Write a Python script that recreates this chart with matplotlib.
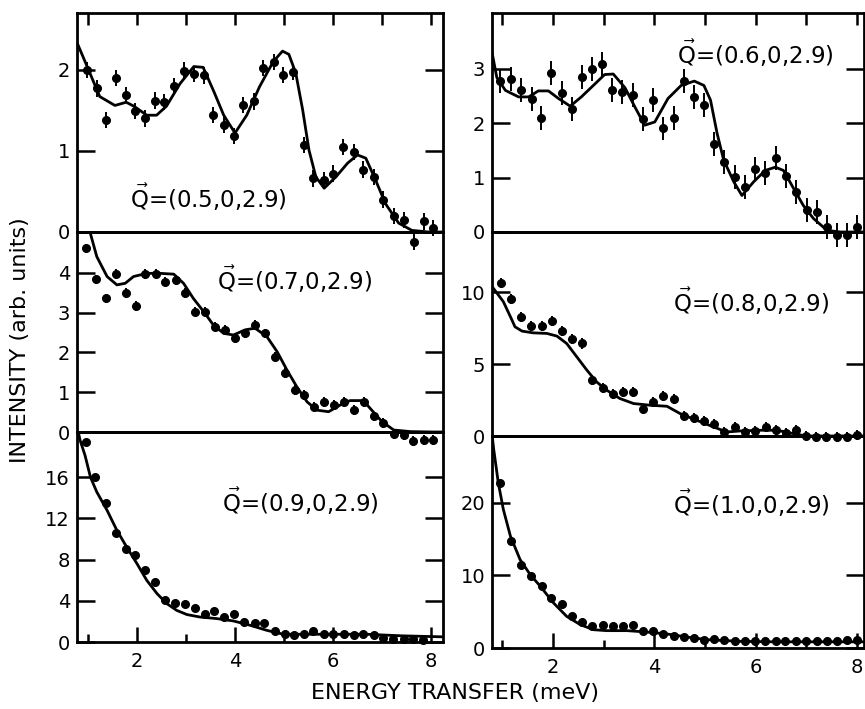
import matplotlib.pyplot as plt

W, H = 865, 709

# ===================== Q=(0.5,0,2.9) =====================
q05_e = [0.99, 1.18, 1.37, 1.58, 1.77, 1.96, 2.17, 2.36, 2.56, 2.76, 2.96, 3.17, 3.37, 3.56, 3.77, 3.98, 4.17, 4.38,
         4.58, 4.79, 4.99, 5.19, 5.40, 5.60, 5.81, 6.00, 6.21, 6.42, 6.62, 6.83, 7.03, 7.25, 7.44, 7.65, 7.85, 8.04]
q05_i = [2.00, 1.77, 1.38, 1.90, 1.69, 1.49, 1.40, 1.62, 1.60, 1.80, 1.99, 1.95, 1.93, 1.44, 1.32, 1.18, 1.57, 1.61,
         2.02, 2.10, 1.94, 1.97, 1.07, 0.66, 0.64, 0.72, 1.05, 0.99, 0.77, 0.68, 0.40, 0.20, 0.15, -0.12, 0.13, 0.05]
q05_fit_e = [0.78, 0.99, 1.24, 1.55, 1.78, 1.94, 2.2, 2.4, 2.6, 2.88, 3.16, 3.35, 3.57, 3.77, 4.0, 4.24, 4.5, 4.78,
             4.97, 5.1, 5.24, 5.38, 5.51, 5.65, 5.82, 6.06, 6.3, 6.5, 6.67, 6.87, 7.07, 7.34, 7.61, 7.95, 8.24]
q05_fit_i = [2.33, 2.03, 1.67, 1.56, 1.60, 1.55, 1.44, 1.44, 1.55, 1.83, 2.04, 2.03, 1.73, 1.44, 1.22, 1.44, 1.79, 2.10,
             2.23, 2.19, 1.96, 1.51, 1.01, 0.68, 0.54, 0.68, 0.85, 0.95, 0.91, 0.64, 0.35, 0.11, 0.02, 0.0, 0.0]

# ===================== Q=(0.6,0,2.9) =====================
q06_e = [0.96, 1.17, 1.37, 1.58, 1.77, 1.97, 2.17, 2.37, 2.57, 2.77, 2.97, 3.17, 3.37, 3.57, 3.77, 3.97, 4.18, 4.38,
         4.59, 4.78, 4.99, 5.18, 5.38, 5.59, 5.79, 5.99, 6.18, 6.40, 6.60, 6.80, 7.01, 7.21, 7.41, 7.60, 7.80, 8.00]
q06_i = [2.78, 2.80, 2.60, 2.45, 2.10, 2.91, 2.55, 2.26, 2.84, 3.00, 3.09, 2.61, 2.57, 2.51, 2.08, 2.42, 1.90, 2.10,
         2.78, 2.48, 2.34, 1.62, 1.28, 1.01, 0.83, 1.16, 1.08, 1.35, 1.02, 0.73, 0.41, 0.37, 0.09, -0.06, -0.06, 0.10]
q06_fit_e = [0.79, 0.89, 1.06, 1.32, 1.52, 1.71, 1.91, 2.11, 2.34, 2.56, 2.83, 3.02, 3.19, 3.42, 3.62, 3.81, 4.01,
             4.27, 4.53, 4.79, 4.98, 5.11, 5.24, 5.37, 5.57, 5.73, 5.96, 6.19, 6.39, 6.55, 6.75, 6.94, 7.14, 7.41,
             7.67, 7.93, 8.14]
q06_fit_i = [3.33, 2.84, 2.60, 2.48, 2.48, 2.59, 2.59, 2.45, 2.31, 2.48, 2.72, 2.89, 2.90, 2.65, 2.29, 1.96, 2.02,
             2.45, 2.69, 2.77, 2.69, 2.42, 1.81, 1.32, 0.92, 0.67, 0.92, 1.13, 1.19, 1.13, 0.80, 0.49, 0.25, 0.03,
             0.0, 0.0, 0.0]

# ===================== Q=(0.7,0,2.9) =====================
q07_e = [0.96, 1.17, 1.37, 1.57, 1.77, 1.97, 2.17, 2.38, 2.58, 2.79, 2.99, 3.19, 3.38, 3.60, 3.80, 4.00, 4.20, 4.41,
         4.61, 4.82, 5.02, 5.23, 5.41, 5.62, 5.82, 6.02, 6.23, 6.43, 6.64, 6.83, 7.03, 7.24, 7.44, 7.64, 7.85, 8.04]
q07_i = [4.62, 3.84, 3.36, 3.97, 3.50, 3.17, 3.97, 3.97, 3.78, 3.82, 3.49, 3.03, 3.03, 2.65, 2.57, 2.36, 2.48, 2.69,
         2.48, 1.89, 1.48, 1.06, 0.93, 0.64, 0.76, 0.68, 0.76, 0.55, 0.76, 0.39, 0.22, -0.05, -0.08, -0.23, -0.20, -0.20]
q07_fit_e = [1.03, 1.18, 1.39, 1.59, 1.76, 1.93, 2.20, 2.47, 2.75, 2.95, 3.15, 3.36, 3.56, 3.77, 3.97, 4.21, 4.41,
             4.65, 4.86, 5.06, 5.26, 5.47, 5.67, 5.91, 6.15, 6.35, 6.62, 6.79, 7.00, 7.24, 7.58, 8.05, 8.24]
q07_fit_i = [5.08, 4.41, 3.91, 3.70, 3.74, 3.91, 3.99, 3.99, 3.97, 3.74, 3.36, 3.03, 2.69, 2.48, 2.44, 2.57, 2.61,
             2.40, 2.02, 1.56, 1.14, 0.76, 0.55, 0.51, 0.68, 0.79, 0.79, 0.55, 0.26, 0.05, 0.01, 0.0, 0.0]

# ===================== Q=(0.8,0,2.9) =====================
q08_e = [0.98, 1.17, 1.37, 1.57, 1.78, 1.98, 2.17, 2.37, 2.58, 2.78, 2.98, 3.18, 3.38, 3.58, 3.77, 3.97, 4.18, 4.38,
         4.59, 4.78, 4.99, 5.18, 5.38, 5.59, 5.79, 5.99, 6.20, 6.40, 6.60, 6.80, 6.99, 7.19, 7.39, 7.60, 7.80, 8.00]
q08_i = [10.63, 9.51, 8.26, 7.65, 7.65, 8.02, 7.32, 6.72, 6.44, 3.93, 3.37, 2.91, 3.03, 3.03, 1.91, 2.37, 2.79, 2.56,
         1.37, 1.26, 1.05, 0.86, 0.28, 0.63, 0.28, 0.33, 0.63, 0.44, 0.23, 0.44, 0.0, -0.07, -0.07, -0.07, -0.07, 0.05]
q08_fit_e = [0.80, 1.02, 1.16, 1.25, 1.39, 1.61, 1.88, 2.08, 2.27, 2.47, 2.67, 2.86, 3.06, 3.32, 3.59, 3.92, 4.25,
             4.51, 4.84, 5.17, 5.43, 5.69, 6.09, 6.42, 6.74, 7.00, 8.14]
q08_fit_i = [10.39, 9.35, 8.30, 7.60, 7.30, 7.18, 7.14, 6.95, 6.44, 5.51, 4.58, 3.77, 3.19, 2.61, 2.26, 2.14, 2.07,
             1.56, 1.09, 0.63, 0.28, 0.35, 0.40, 0.40, 0.17, 0.0, 0.0]

# ===================== Q=(0.9,0,2.9) =====================
q09_e = [0.96, 1.15, 1.37, 1.58, 1.78, 1.96, 2.17, 2.37, 2.58, 2.78, 2.98, 3.19, 3.39, 3.58, 3.78, 3.99, 4.19, 4.40,
         4.60, 4.81, 5.02, 5.21, 5.41, 5.60, 5.81, 6.01, 6.22, 6.42, 6.62, 6.83, 7.03, 7.23, 7.44, 7.64, 7.83]
q09_i = [19.4, 16.0, 13.48, 10.57, 9.06, 8.41, 6.95, 5.82, 4.11, 3.78, 3.66, 3.34, 2.75, 3.01, 2.42, 2.75, 1.94, 1.84,
         1.84, 1.07, 0.75, 0.65, 0.75, 1.07, 0.81, 0.75, 0.75, 0.72, 0.75, 0.72, 0.42, 0.33, 0.33, 0.33, 0.23]
q09_fit_e = [0.80, 0.84, 0.94, 1.05, 1.18, 1.39, 1.59, 1.79, 2.00, 2.20, 2.41, 2.61, 2.81, 3.02, 3.29, 3.63, 3.97,
             4.31, 4.65, 4.99, 5.33, 6.01, 6.69, 7.40, 8.24]
q09_fit_i = [20.4, 19.56, 18.1, 16.0, 14.55, 12.77, 10.83, 9.21, 7.60, 5.98, 4.69, 3.72, 3.07, 2.66, 2.42, 2.27, 2.04,
             1.62, 1.13, 0.75, 0.75, 0.75, 0.75, 0.6, 0.5]

# ===================== Q=(1.0,0,2.9) =====================
q10_e = [0.96, 1.17, 1.37, 1.57, 1.78, 1.97, 2.18, 2.38, 2.58, 2.78, 2.98, 3.18, 3.38, 3.58, 3.77, 3.98, 4.18, 4.39,
         4.59, 4.78, 4.99, 5.18, 5.38, 5.59, 5.79, 5.99, 6.18, 6.40, 6.59, 6.80, 6.99, 7.21, 7.40, 7.60, 7.80, 8.00]
q10_i = [22.76, 14.71, 11.49, 9.88, 8.59, 6.90, 6.11, 4.36, 3.53, 3.08, 3.21, 2.98, 2.98, 3.21, 2.29, 2.29, 1.97, 1.70,
         1.52, 1.38, 1.15, 1.24, 1.06, 1.0, 1.0, 1.0, 1.0, 1.0, 1.0, 1.0, 1.0, 1.0, 1.0, 1.0, 1.1, 1.1]
q10_fit_e = [0.80, 0.83, 0.92, 1.02, 1.16, 1.35, 1.55, 1.75, 2.01, 2.27, 2.54, 2.80, 3.06, 3.46, 3.85, 4.25, 4.64,
             5.04, 5.69, 6.35, 8.14]
q10_fit_i = [29.2, 27.35, 22.76, 19.08, 15.40, 12.18, 10.11, 8.50, 6.21, 4.36, 3.21, 2.52, 2.39, 2.39, 2.20, 1.93,
             1.52, 1.15, 0.92, 0.85, 0.85]

labels = ["(0.5,0,2.9)", "(0.6,0,2.9)", "(0.7,0,2.9)", "(0.8,0,2.9)", "(0.9,0,2.9)", "(1.0,0,2.9)"]

plt.rcParams['font.family'] = ['DejaVu Sans']
plt.rcParams['mathtext.fontset'] = 'dejavusans'

fig = plt.figure(figsize=(W / 100, H / 100), dpi=100)


def panel(box, xlim, ylim, yticks, e, i, fe, fi, err, label, lab_xy, row):
    x0, y0, x1, y1 = box
    ax = fig.add_axes([x0 / W, 1 - y1 / H, (x1 - x0) / W, (y1 - y0) / H])
    ax.patch.set_visible(False)  # let points below zero show over the panel underneath
    ax.plot(fe, fi, color="black", lw=2.0, solid_capstyle="round")
    ax.errorbar(e, i, yerr=err, fmt="o", color="black", ms=5.5, elinewidth=1.4, capsize=0, clip_on=False)
    ax.set_xlim(*xlim)
    ax.set_ylim(*ylim)
    ax.set_yticks(yticks)
    ax.set_yticklabels([str(t) for t in yticks])
    ax.tick_params(axis="y", direction="in", left=True, right=True, length=13, width=1.8, pad=5, labelsize=14)
    if row == 0:
        ax.set_xticks([1, 2, 3, 4, 5, 6, 7, 8])
        ax.tick_params(axis="x", direction="in", top=True, bottom=False, labelbottom=False, length=8.5, width=1.8)
    elif row == 1:
        ax.set_xticks([])
    else:
        ax.set_xticks([2, 4, 6, 8])
        ax.set_xticks([1, 3, 5, 7], minor=True)
        ax.tick_params(axis="x", which="major", direction="in", top=False, length=11, width=1.8, pad=7, labelsize=14)
        ax.tick_params(axis="x", which="minor", direction="in", top=False, length=6, width=1.8)
    for s in ax.spines.values():
        s.set_linewidth(2.0)
    fig.text(lab_xy[0] / W, 1 - lab_xy[1] / H, r"$\vec{\mathrm{Q}}$=" + label, fontsize=16.5, ha="left", va="center")
    return ax


left_x = (0.776, 8.245)
right_x = (0.796, 8.14)

panel((77, 13, 443, 232), left_x, (0, 2.70), [0, 1, 2], q05_e, q05_i, q05_fit_e, q05_fit_i, 0.1,
      labels[0], (130, 197), 0)
panel((492, 13, 864, 232), right_x, (0, 4.02), [0, 1, 2, 3], q06_e, q06_i, q06_fit_e, q06_fit_i, 0.22,
      labels[1], (677, 53), 0)
panel((77, 232, 443, 432), left_x, (0, 5.03), [0, 1, 2, 3, 4], q07_e, q07_i, q07_fit_e, q07_fit_i, 0.12,
      labels[2], (217, 279), 1)
panel((492, 232, 864, 436), right_x, (0, 14.2), [0, 5, 10], q08_e, q08_i, q08_fit_e, q08_fit_i, 0.35,
      labels[3], (673, 301), 1)
panel((77, 432, 443, 642), left_x, (0, 20.37), [0, 4, 8, 12, 16], q09_e, q09_i, q09_fit_e, q09_fit_i, None,
      labels[4], (222, 501), 2)
panel((492, 436, 864, 648), right_x, (0, 29.2), [0, 10, 20], q10_e, q10_i, q10_fit_e, q10_fit_i, None,
      labels[5], (673, 503), 2)

fig.text(20 / W, 1 - 340 / H, "INTENSITY (arb. units)", rotation=90, ha="center", va="center", fontsize=16)
fig.text(455 / W, 1 - 693 / H, "ENERGY TRANSFER (meV)", ha="center", va="center", fontsize=16)

fig.savefig("out.png", dpi=100)
